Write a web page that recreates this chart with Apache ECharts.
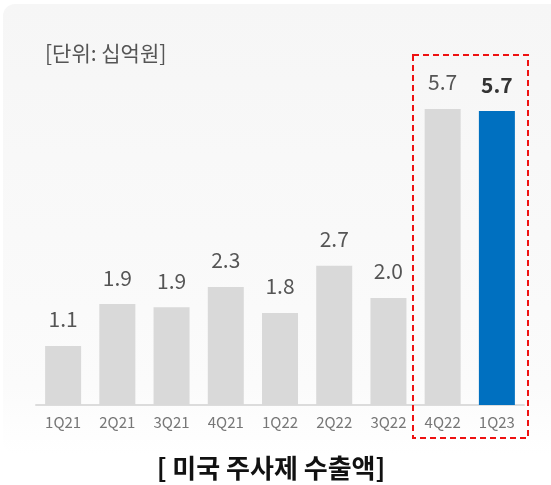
<!DOCTYPE html>
<html>
<head>
<meta charset="utf-8">
<script src="https://cdn.jsdelivr.net/npm/echarts@6/dist/echarts.min.js"></script>
<style>
html,body{margin:0;padding:0;background:#fff;}
#c{width:551px;height:485px;}
</style>
</head>
<body>
<div id="c"></div>
<script>
const categories = ['1Q21','2Q21','3Q21','4Q21','1Q22','2Q22','3Q22','4Q22','1Q23'];
const values = [1.14, 1.95, 1.89, 2.28, 1.78, 2.69, 2.07, 5.72, 5.68];
const valueLabels = ['1.1','1.9','1.9','2.3','1.8','2.7','2.0','5.7','5.7'];
const highlightIndex = 8;
const unitText = '[단위: 십억원]';
const chartTitle = '[ 미국 주사제 수출액]';

const chart = echarts.init(document.getElementById('c'), null, {renderer:'canvas'});
const font = '"Noto Sans CJK KR", "Noto Sans", sans-serif';

const data = values.map((v, i) => {
  const hi = i === highlightIndex;
  return {
    value: v,
    itemStyle: {color: hi ? '#0070c0' : '#d9d9d9'},
    label: hi ? {fontWeight: 'bold', color: '#333', fontSize: 21} : {}
  };
});

chart.setOption({
  animation: false,
  backgroundColor: 'transparent',
  graphic: [
    {type:'rect', z:-10, shape:{x:3, y:4, width:560, height:450, r:12},
     style:{fill:{type:'linear', x:0, y:0, x2:0, y2:1, colorStops:[
       {offset:0, color:'#f6f6f6'}, {offset:0.85, color:'#fbfbfb'}, {offset:1, color:'#ffffff'}]}}},
    {type:'text', left:45, top:43, style:{text: unitText, font:'21px ' + font, fill:'#555'}},
    {type:'rect', z:10, shape:{x:413, y:55, width:115, height:383},
     style:{fill:'none', stroke:'#ee1111', lineWidth:2, lineDash:[6,4]}},
    {type:'text', x:271, y:468, style:{text: chartTitle, font:'bold 26px ' + font, fill:'#111', align:'center', verticalAlign:'middle'}}
  ],
  grid: {left:36, right:27, top:94.5, bottom:80},
  xAxis: {
    type:'category', data: categories,
    axisLine:{lineStyle:{color:'#dcdcdc', width:2}},
    axisTick:{show:false},
    axisLabel:{color:'#777', fontSize:15, fontFamily:font, margin:10}
  },
  yAxis: {type:'value', min:0, max:6, show:false, splitLine:{show:false}},
  series: [{
    type:'bar', data: data, barWidth:36,
    label:{show:true, position:'top', distance:16, fontSize:21, color:'#555', fontFamily:font,
      formatter: p => valueLabels[p.dataIndex]}
  }]
});
</script>
</body>
</html>
